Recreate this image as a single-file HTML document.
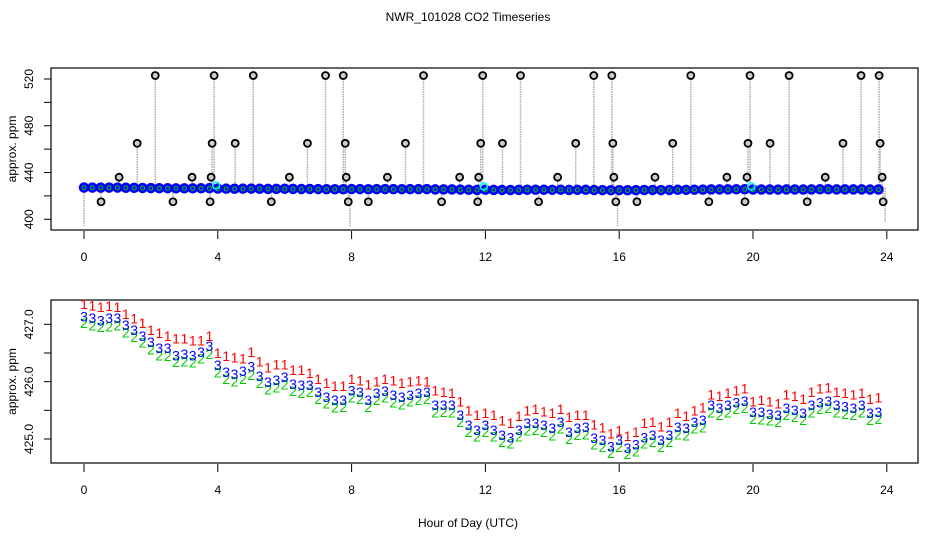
<!DOCTYPE html>
<html><head><meta charset="utf-8"><style>
html,body{margin:0;padding:0;background:#fff;}
svg{display:block;font-family:"Liberation Sans",sans-serif;}
</style></head><body>
<svg id="chart" width="936" height="540" viewBox="0 0 936 540" xmlns="http://www.w3.org/2000/svg">
<rect width="936" height="540" fill="#fff"/>
<text x="468" y="21" font-size="12" text-anchor="middle">NWR_101028  CO2 Timeseries</text>
<g id="topPanel"></g>
<g id="botPanel"></g>
<text x="468" y="527" font-size="12" text-anchor="middle">Hour of Day (UTC)</text>
</svg>
<script>
const hourTicks = [0,4,8,12,16,20,24];
const topYTicks = [400,420,440,460,480,500,520];
const topYLabels = [400,440,480,520];
const botYTicks = [425.0,425.5,426.0,426.5,427.0];
const botYLabels = ["425.0","426.0","427.0"];
const botYLabelVals = [425.0,426.0,427.0];
const baseHours = Array.from({length:96},(_, i)=>i*0.25);
const blueVals = [427.14,427.11,427.07,427.11,427.11,426.99,426.90,426.80,426.69,426.59,426.59,426.46,426.48,426.46,426.52,426.62,426.29,426.17,426.13,426.19,426.26,426.10,425.99,426.03,426.08,425.96,425.94,425.94,425.82,425.73,425.68,425.68,425.85,425.82,425.68,425.80,425.84,425.77,425.73,425.77,425.80,425.82,425.59,425.59,425.59,425.42,425.24,425.16,425.24,425.16,425.07,425.03,425.16,425.28,425.28,425.24,425.19,425.30,425.12,425.19,425.21,425.02,424.98,424.87,424.98,424.84,424.90,425.03,425.07,424.98,425.07,425.21,425.19,425.30,425.33,425.59,425.54,425.59,425.64,425.66,425.47,425.47,425.44,425.42,425.54,425.51,425.45,425.59,425.64,425.66,425.59,425.57,425.54,425.59,425.45,425.47];
const redVals = [427.35,427.33,427.30,427.32,427.30,427.18,427.10,427.02,426.90,426.85,426.80,426.75,426.75,426.72,426.72,426.80,426.50,426.45,426.42,426.40,426.52,426.35,426.25,426.30,426.30,426.20,426.20,426.15,426.05,425.98,425.92,425.92,426.05,426.02,425.95,426.00,426.05,426.02,425.98,426.00,426.02,426.00,425.85,425.82,425.80,425.65,425.50,425.42,425.45,425.42,425.32,425.28,425.40,425.50,425.52,425.48,425.45,425.52,425.38,425.42,425.42,425.25,425.20,425.10,425.15,425.05,425.12,425.28,425.30,425.22,425.30,425.45,425.40,425.50,425.55,425.78,425.75,425.80,425.85,425.88,425.65,425.68,425.65,425.62,425.78,425.75,425.70,425.82,425.88,425.90,425.82,425.80,425.78,425.80,425.70,425.72];
const greenVals = [427.02,426.98,426.95,426.96,426.98,426.86,426.78,426.68,426.56,426.46,426.45,426.34,426.35,426.33,426.40,426.48,426.16,426.05,426.00,426.05,426.12,425.98,425.86,425.90,425.95,425.84,425.80,425.82,425.70,425.62,425.55,425.56,425.72,425.70,425.56,425.68,425.72,425.64,425.60,425.65,425.68,425.70,425.46,425.47,425.46,425.30,425.12,425.04,425.12,425.04,424.95,424.92,425.04,425.15,425.16,425.12,425.06,425.18,425.00,425.07,425.08,424.90,424.86,424.76,424.86,424.74,424.78,424.92,424.95,424.86,424.95,425.08,425.06,425.18,425.20,425.46,425.42,425.46,425.52,425.54,425.35,425.34,425.32,425.30,425.42,425.38,425.33,425.46,425.52,425.54,425.46,425.44,425.42,425.46,425.33,425.35];
const spikeHours = [0.51,1.05,1.59,2.13,2.66,3.23,3.77,3.80,3.83,3.89,4.52,5.06,5.60,6.14,6.68,7.22,7.75,7.81,7.84,7.90,8.50,9.07,9.61,10.15,10.69,11.23,11.77,11.80,11.86,11.92,12.51,13.05,13.59,14.16,14.70,15.24,15.78,15.81,15.84,15.90,16.53,17.07,17.60,18.14,18.68,19.22,19.76,19.82,19.85,19.91,20.51,21.08,21.62,22.16,22.69,23.23,23.77,23.80,23.86,23.89];
const spikeVals = [415,436,465,523,415,436,415,436,465,523,465,523,415,436,465,523,523,465,436,415,415,436,465,523,415,436,415,436,465,523,465,523,415,436,465,523,523,465,436,415,415,436,465,523,415,436,415,436,465,523,465,523,415,436,465,523,523,465,436,415];
const dipHours = [0.0,7.95,15.95,23.95];
const dipVals = [394,394,394,397];
const cyanHours = [3.95,11.95,19.95];
const cyanVals = [429,428,428];

const NS="http://www.w3.org/2000/svg";
function mk(tag,attrs,parent,text){const e=document.createElementNS(NS,tag);for(const k in attrs)e.setAttribute(k,attrs[k]);if(text!==undefined)e.textContent=text;parent.appendChild(e);return e;}
const X0=51,X1=918;
function xs(h){return 84+h*33.45;}
function yTop(v){return 79+(520-v)*1.169;}
function yBot(v){return 324.3+(427-v)*57.35;}
const topG=document.getElementById('topPanel'), botG=document.getElementById('botPanel');

function axes(g,y0,y1,yticks,ylabVals,ylabs,yfn,prefix){
  const box=mk('rect',{x:X0,y:y0,width:X1-X0,height:y1-y0,fill:'none',stroke:'#000','stroke-width':1.2},g);
  
  
  hourTicks.forEach(h=>{
    const t=mk('line',{x1:xs(h),x2:xs(h),y1:y1+1,y2:y1+9,stroke:'#000'},g);
    
    
    const l=mk('text',{x:xs(h),y:y1+31,'font-size':12,'text-anchor':'middle'},g,String(h));
    
    
  });
  yticks.forEach(v=>{
    const t=mk('line',{x1:X0-7,x2:X0,y1:yfn(v),y2:yfn(v),stroke:'#000'},g);
    
    
  });
  ylabVals.forEach((v,i)=>{
    const l=mk('text',{x:0,y:0,'font-size':12,'text-anchor':'middle',transform:`translate(33,${yfn(v)}) rotate(-90)`},g,String(ylabs[i]));
    
    
  });
  const yl=mk('text',{x:0,y:0,'font-size':12,'text-anchor':'middle',transform:`translate(16,${(y0+y1)/2}) rotate(-90)`},g,'approx. ppm');
  
  
}

// top panel
axes(topG,68,230,topYTicks,topYLabels,topYLabels,yTop,'top');
spikeHours.forEach((h,i)=>{
  const ln=mk('line',{x1:xs(h),x2:xs(h),y1:yTop(427),y2:yTop(spikeVals[i]),stroke:'#aaa','stroke-width':1.5,'stroke-dasharray':'1.5 1'},topG);
  
  
});
dipHours.forEach((h,i)=>{
  const ln=mk('line',{x1:xs(h),x2:xs(h),y1:yTop(427),y2:yTop(dipVals[i]),stroke:'#aaa','stroke-width':1.5,'stroke-dasharray':'1.5 1'},topG);
  
  
});
baseHours.forEach((h,i)=>{
  const c=mk('circle',{cx:xs(h),cy:yTop(redVals[i]),r:4,fill:'none',stroke:'#f00','stroke-width':1.5},topG);
  
  
});
baseHours.forEach((h,i)=>{
  const c=mk('circle',{cx:xs(h),cy:yTop(blueVals[i]),r:4.5,fill:'#00f',stroke:'#00f','stroke-width':1.5},topG);
  
  
});
baseHours.forEach((h,i)=>{
  const c=mk('circle',{cx:xs(h),cy:yTop(greenVals[i]),r:2,fill:'none',stroke:'#0c0','stroke-width':1},topG);
  
  
});
spikeHours.forEach((h,i)=>{
  const c=mk('circle',{cx:xs(h),cy:yTop(spikeVals[i]),r:3.5,fill:'#ccc',stroke:'#000','stroke-width':1.8},topG);
  
  
});
cyanHours.forEach((h,i)=>{
  const c=mk('circle',{cx:xs(h),cy:yTop(cyanVals[i]),r:3.5,fill:'none',stroke:'#0ff','stroke-width':1.5},topG);
  
  
});

// bottom panel
axes(botG,300,463,botYTicks,botYLabelVals,botYLabels,yBot,'bottom');
function chars(vals,ch,color,name){
  baseHours.forEach((h,i)=>{
    if(vals[i]===undefined)return;
    const t=mk('text',{x:xs(h),y:yBot(vals[i])+5,'font-size':14,'text-anchor':'middle',fill:color},botG,ch);
    
    
  });
}
chars(greenVals,'2','#0c0','series-2-point');
chars(redVals,'1','#f00','series-1-point');
chars(blueVals,'3','#00f','series-3-point');
</script>
</body></html>
